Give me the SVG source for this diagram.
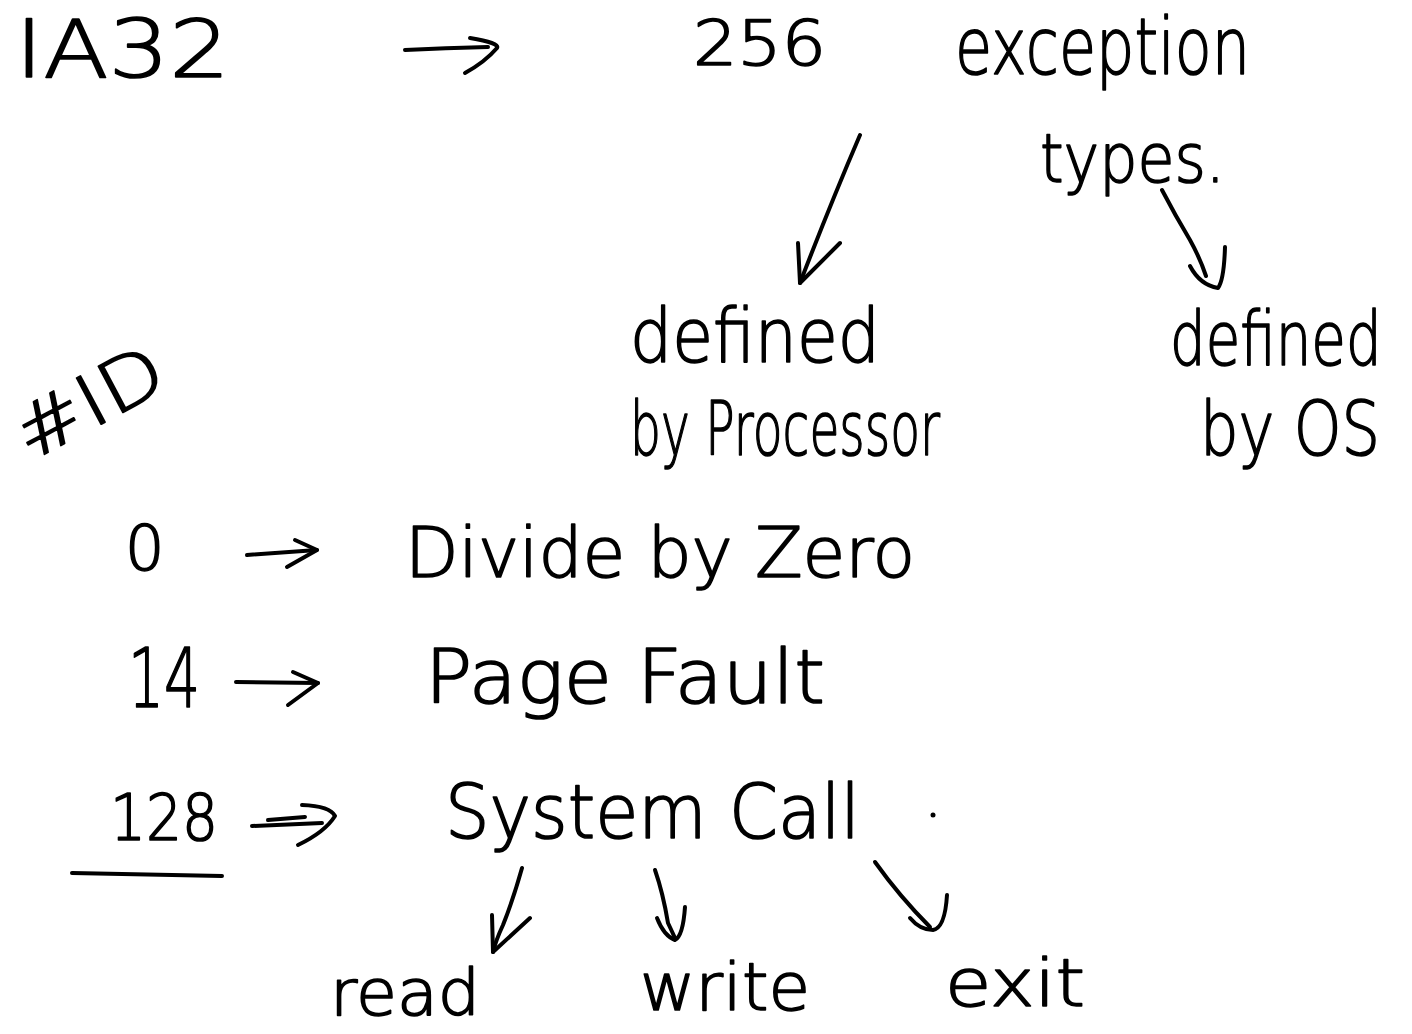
<svg xmlns="http://www.w3.org/2000/svg" width="1412" height="1034" viewBox="0 0 1412 1034">
  <style>
    .t { font-family: "DejaVu Sans", "Liberation Sans", sans-serif; font-weight: 200; fill: #000; stroke: #000; stroke-width: 1.6; stroke-linejoin: round; }
    .ink { fill: none; stroke: #000; stroke-width: 4; stroke-linecap: round; stroke-linejoin: round; }
  </style>
  <rect width="1412" height="1034" fill="#fff"/>

  <!-- top row: architecture and exception count -->
  <g id="ia32"><text class="t" x="15" y="77" font-size="80" textLength="215" lengthAdjust="spacingAndGlyphs">IA32</text></g>
  <g id="count"><text class="t" x="693" y="65" font-size="62" textLength="133" lengthAdjust="spacingAndGlyphs">256</text></g>
  <g id="exception-types">
    <text class="t" x="955" y="74" font-size="78" textLength="295" lengthAdjust="spacingAndGlyphs">exception</text>
    <text class="t" x="1040" y="182" font-size="68" textLength="185" lengthAdjust="spacingAndGlyphs">types.</text>
  </g>

  <!-- the two categories -->
  <g id="by-processor">
    <text class="t" x="630" y="362" font-size="74" textLength="250" lengthAdjust="spacingAndGlyphs">defined</text>
    <text class="t" x="630" y="455" font-size="74" textLength="310" lengthAdjust="spacingAndGlyphs">by Processor</text>
  </g>
  <g id="by-os">
    <text class="t" transform="translate(1170,365) scale(0.76,1)" font-size="74">defined</text>
    <text class="t" transform="translate(1200,455) scale(0.82,1)" font-size="74">by OS</text>
  </g>

  <!-- vector table -->
  <g id="id-heading"><text class="t" transform="translate(30,462) rotate(-28)" font-size="72" textLength="160" lengthAdjust="spacingAndGlyphs">#ID</text></g>
  <g id="vec-0"><text class="t" x="125" y="570" font-size="62">0</text></g>
  <g id="divide-by-zero"><text class="t" x="405" y="577" font-size="70" textLength="510" lengthAdjust="spacingAndGlyphs">Divide by Zero</text></g>
  <g id="vec-14"><text class="t" x="128" y="707" font-size="82" textLength="72" lengthAdjust="spacingAndGlyphs">14</text></g>
  <g id="page-fault"><text class="t" x="425" y="703" font-size="74" textLength="400" lengthAdjust="spacingAndGlyphs">Page Fault</text></g>
  <g id="vec-128">
    <text class="t" x="110" y="840" font-size="64" textLength="108" lengthAdjust="spacingAndGlyphs">128</text>
    <path class="ink" d="M72 873 L222 876"/>
  </g>
  <g id="system-call">
    <text class="t" x="445" y="838" font-size="74" textLength="415" lengthAdjust="spacingAndGlyphs">System Call</text>
    <circle cx="933" cy="815" r="2.5" fill="#000"/>
  </g>

  <!-- system call examples -->
  <g id="read"><text class="t" x="330" y="1015" font-size="64" textLength="150" lengthAdjust="spacingAndGlyphs">read</text></g>
  <g id="write"><text class="t" x="640" y="1010" font-size="66" textLength="170" lengthAdjust="spacingAndGlyphs">write</text></g>
  <g id="exit"><text class="t" x="945" y="1006" font-size="66" textLength="140" lengthAdjust="spacingAndGlyphs">exit</text></g>

  <!-- connectors -->
  <g id="connectors">
    <!-- IA32 to 256 -->
    <path class="ink" d="M405 50 Q445 48 488 47"/>
    <path class="ink" d="M470 38 Q500 43 497 48 Q485 62 465 73"/>
    <!-- 256 to processor-defined -->
    <path class="ink" d="M860 135 Q830 205 800 283"/>
    <path class="ink" d="M798 243 L800 283 L840 243"/>
    <!-- types to OS-defined -->
    <path class="ink" d="M1162 190 Q1175 215 1190 240 Q1200 258 1206 276"/>
    <path class="ink" d="M1190 266 Q1200 285 1218 288 Q1224 280 1225 247"/>
    <!-- 0 to divide by zero -->
    <path class="ink" d="M247 555 L317 550"/>
    <path class="ink" d="M295 540 L317 550 L287 567"/>
    <!-- 14 to page fault -->
    <path class="ink" d="M236 682 L318 683"/>
    <path class="ink" d="M293 672 L318 683 L288 705"/>
    <!-- 128 to system call (double arrow) -->
    <path class="ink" d="M252 826 L322 823"/>
    <path class="ink" d="M268 820 L305 817"/>
    <path class="ink" d="M302 805 Q330 806 335 816 Q325 832 298 845"/>
    <!-- system call to read -->
    <path class="ink" d="M522 868 Q513 900 503 925 Q496 940 493 952"/>
    <path class="ink" d="M492 915 L493 952 L530 918"/>
    <!-- system call to write -->
    <path class="ink" d="M655 870 Q663 893 668 923 L675 938"/>
    <path class="ink" d="M657 918 Q664 936 675 940 Q683 936 685 907"/>
    <!-- system call to exit -->
    <path class="ink" d="M875 862 Q900 897 930 927"/>
    <path class="ink" d="M910 918 Q920 930 933 930 Q945 928 947 895"/>
  </g>
</svg>
